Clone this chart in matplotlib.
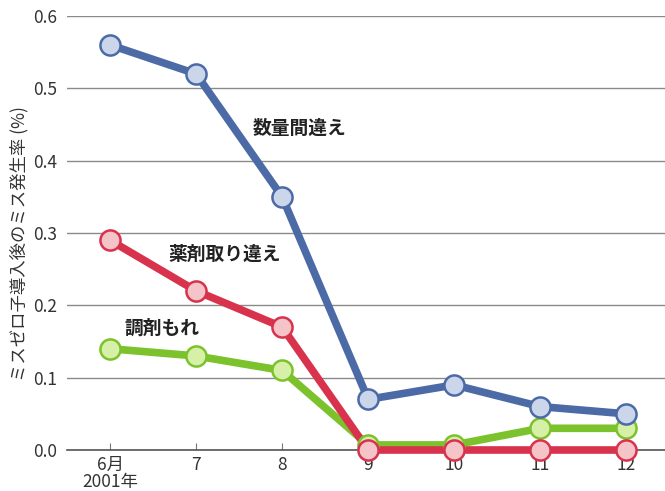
import matplotlib
matplotlib.use("Agg")
import matplotlib.pyplot as plt

plt.rcParams["font.family"] = ["Noto Sans CJK JP", "DejaVu Sans"]

months = ["6月\n2001年", "7", "8", "9", "10", "11", "12"]
suryo = [0.56, 0.52, 0.35, 0.07, 0.09, 0.06, 0.05]
yakuzai = [0.29, 0.22, 0.17, 0.0, 0.0, 0.0, 0.0]
chozai = [0.14, 0.13, 0.11, 0.007, 0.007, 0.03, 0.03]
y_ticks = [0.0, 0.1, 0.2, 0.3, 0.4, 0.5, 0.6]


def main():
    fig = plt.figure(figsize=(6.65, 4.91), dpi=100)
    ax = fig.add_axes([67 / 665, 1 - 450 / 491, 1 - 67 / 665, (450 - 16) / 491])
    x = list(range(len(months)))

    series = [
        (chozai, "#7cc22c", "#d6f0a8"),
        (yakuzai, "#d8324c", "#f4c4c8"),
        (suryo, "#4b6aa6", "#ccd6ea"),
    ]
    for vals, col, fill in series:
        ax.plot(x, vals, color=col, lw=5.5, zorder=3, clip_on=False,
                solid_capstyle="round")
        ax.plot(x, vals, ls="none", marker="o", ms=14.5, mfc=fill, mec=col,
                mew=1.8, zorder=4, clip_on=False)

    ax.set_xlim(-0.5, 6.45)
    ax.set_ylim(0, 0.6)
    ax.set_yticks(y_ticks)
    ax.set_yticklabels([f"{v:.1f}" for v in y_ticks])
    ax.yaxis.grid(True, color="#8a8a8a", lw=1)
    ax.set_axisbelow(True)
    ax.set_xticks(x)
    ax.set_xticklabels(months, linespacing=0.95)
    ax.tick_params(axis="y", length=0, pad=7, labelsize=12.5, labelcolor="#333333")
    ax.tick_params(axis="x", direction="in", length=5, color="#777777",
                   pad=4, labelsize=12.5, labelcolor="#333333")
    for s in ["top", "right", "left"]:
        ax.spines[s].set_visible(False)
    ax.spines["bottom"].set_color("#555555")
    ax.spines["bottom"].set_linewidth(1.2)

    ax.set_ylabel("ミスゼロ子導入後のミス発生率 (%)", fontsize=12.5,
                  color="#333333")
    ax.yaxis.set_label_coords(-0.064, 0.475)

    ax.text(2.2, 0.445, "数量間違え", fontsize=13.5, fontweight="bold",
            ha="center", va="center", color="#222222")
    ax.text(1.33, 0.27, "薬剤取り違え", fontsize=13.5, fontweight="bold",
            ha="center", va="center", color="#222222")
    ax.text(0.6, 0.168, "調剤もれ", fontsize=13.5, fontweight="bold",
            ha="center", va="center", color="#222222")

    fig.savefig("out.png", dpi=100)


if __name__ == "__main__":
    main()
